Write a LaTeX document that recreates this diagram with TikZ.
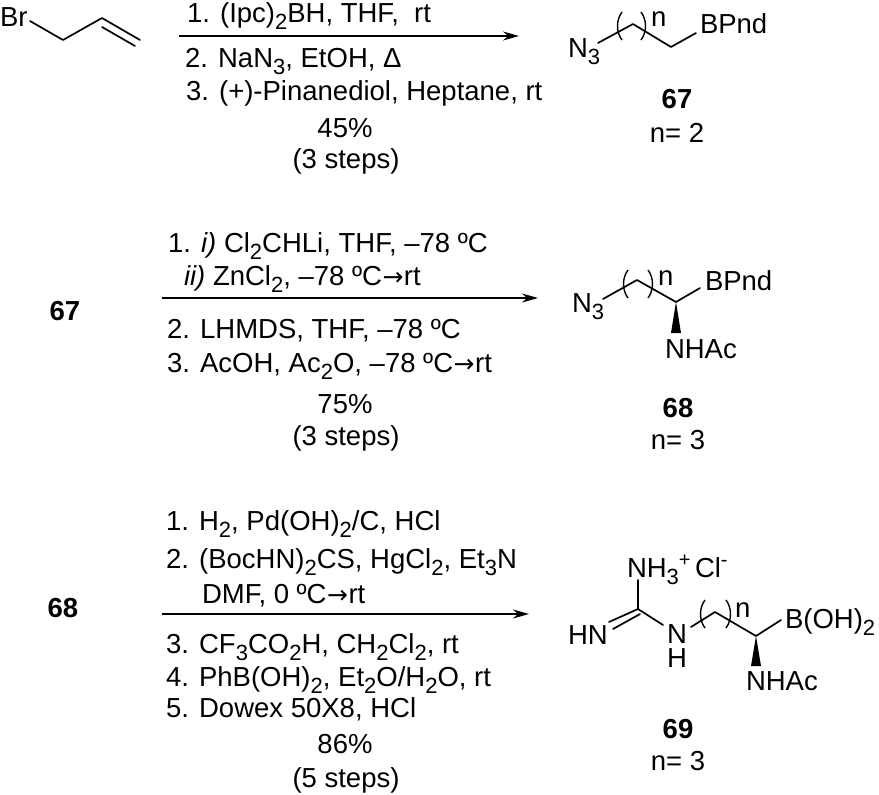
\documentclass[tikz,border=0pt]{standalone}
\usepackage{fontspec}
\setmainfont{Liberation Sans}
\newfontfamily\arrfont{DejaVu Sans}
\usetikzlibrary{arrows.meta}
\newcommand{\sbs}[1]{\raisebox{-7pt}{\fontsize{22}{22}\selectfont #1}}
\newcommand{\sps}[1]{\raisebox{11pt}{\fontsize{20}{20}\selectfont #1}}
\newcommand{\yields}{\kern0.5pt{\arrfont\fontsize{25}{25}\selectfont →}\kern0.5pt}
\tikzset{
  txt/.style={inner sep=0pt,outer sep=0pt,anchor=base west,font=\fontsize{27.5}{30}\selectfont},
  ctr/.style={txt,anchor=base},
  stack/.style={inner sep=0pt,outer sep=0pt,align=center,font=\fontsize{27.5}{24}\selectfont},
  cmpd/.style={ctr,font=\fontsize{27.5}{30}\selectfont\bfseries},
  bond/.style={line width=1.7pt,line cap=round,line join=round},
  paren/.style={line width=1.4pt},
  rxn/.style={line width=1.5pt,-{Stealth[length=16pt,width=9pt]}},
  wedgeb/.style={fill=black,draw=none}
}
\begin{document}
\begin{tikzpicture}[x=1pt,y=-1pt]
\useasboundingbox (0,0) rectangle (879,795);
% Starting material
\node[txt] (br) at (0,27) {Br};
\coordinate (a0) at (30,21);\coordinate (a1) at (63,40);\coordinate (a2) at (102,18);\coordinate (a3) at (140,40);
\coordinate (a4) at (102,27);\coordinate (a5) at (135,46);
\draw[bond] (a0)--(a1)--(a2)--(a3);
\draw[bond] (a4)--(a5);
% Reaction 1
\coordinate (r1s) at (179,36);\coordinate (r1e) at (519,36);
\draw[rxn] (r1s)--(r1e);
\node[txt] (c11) at (187,23) {1. (Ipc)\sbs{2}BH, THF,\ \ rt};
\node[txt] (c12) at (185,67) {2. NaN\sbs{3}, EtOH, Δ};
\node[txt] (c13) at (186,100) {3. (+)-Pinanediol, Heptane, rt};
\node[ctr] (c14) at (345,137) {45\%};
\node[ctr] (c15) at (346,168) {(3 steps)};
% 67
\node[txt] (n67) at (568,57) {N\sbs{3}};
\coordinate (b0) at (598,43);\coordinate (b1) at (633,24);\coordinate (b2) at (671,47);\coordinate (b3) at (696,33);
\draw[bond] (b0)--(b1)--(b2)--(b3);
\coordinate (p1a) at (622,12);\coordinate (p1b) at (622,40);\coordinate (p2a) at (641,12);\coordinate (p2b) at (641,40);
\draw[paren] (p1a) .. controls (616,20) and (616,32) .. (p1b);
\draw[paren] (p2a) .. controls (647,20) and (647,32) .. (p2b);
\node[txt] (nn1) at (651,27) {n};
\node[txt] (bp1) at (700,34) {BPnd};
\node[cmpd] (l67) at (677,108) {67};
\node[ctr] (n2) at (677,142) {n= 2};
% Row 2
\node[cmpd] (s67) at (65,320) {67};
\coordinate (r2s) at (162,298);\coordinate (r2e) at (538,298);
\draw[rxn] (r2s)--(r2e);
\node[txt] (c21) at (168,252) {1. \textit{i)} Cl\sbs{2}CHLi, THF, –78 ºC};
\node[txt] (c22) at (184,285) {\textit{ii)} ZnCl\sbs{2}, –78 ºC\yields rt};
\node[txt] (c23) at (167,338) {2. LHMDS, THF, –78 ºC};
\node[txt] (c24) at (167,372) {3. AcOH, Ac\sbs{2}O, –78 ºC\yields rt};
\node[ctr] (c25) at (345,413) {75\%};
\node[ctr] (c26) at (346,445) {(3 steps)};
% 68
\node[txt] (n68) at (572,312) {N\sbs{3}};
\coordinate (d0) at (603,299);\coordinate (d1) at (637,280);\coordinate (d2) at (676,302);\coordinate (d3) at (700,288);
\draw[bond] (d0)--(d1)--(d2)--(d3);
\coordinate (w1l) at (671,333);\coordinate (w1r) at (681,333);
\fill[wedgeb] (d2)--(w1r)--(w1l)--cycle;
\coordinate (q1a) at (628,270);\coordinate (q1b) at (628,298);\coordinate (q2a) at (648,270);\coordinate (q2b) at (648,298);
\draw[paren] (q1a) .. controls (622,278) and (622,290) .. (q1b);
\draw[paren] (q2a) .. controls (654,278) and (654,290) .. (q2b);
\node[txt] (nn2) at (658,285) {n};
\node[txt] (bp2) at (705,290) {BPnd};
\node[txt] (na2) at (665,358) {NHAc};
\node[cmpd] (l68) at (678,417) {68};
\node[ctr] (n3a) at (678,449) {n= 3};
% Row 3
\node[cmpd] (s68) at (63,617) {68};
\coordinate (r3s) at (162,614);\coordinate (r3e) at (529,614);
\draw[rxn] (r3s)--(r3e);
\node[txt] (c31) at (166,530) {1. H\sbs{2}, Pd(OH)\sbs{2}/C, HCl};
\node[txt] (c32) at (166,568) {2. (BocHN)\sbs{2}CS, HgCl\sbs{2}, Et\sbs{3}N};
\node[txt] (c33) at (202,603) {DMF, 0 ºC\yields rt};
\node[txt] (c34) at (166,653) {3. CF\sbs{3}CO\sbs{2}H, CH\sbs{2}Cl\sbs{2}, rt};
\node[txt] (c35) at (166,686) {4. PhB(OH)\sbs{2}, Et\sbs{2}O/H\sbs{2}O, rt};
\node[txt] (c36) at (166,717) {5. Dowex 50X8, HCl};
\node[ctr] (c37) at (345,753) {86\%};
\node[ctr] (c38) at (346,787) {(5 steps)};
% 69
\node[txt] (nh3) at (627,577) {NH\sbs{3}\sps{+}};
\node[txt] (cl) at (695,577) {Cl\sps{-}};
\node[txt] (hn) at (568,644) {HN};
\node[stack] (nh) at (677,646) {N\\H};
\coordinate (e0) at (638,580);\coordinate (e1) at (638,609);\coordinate (e2) at (609,622);
\coordinate (e3) at (613,629);\coordinate (e4) at (640,614);\coordinate (e5) at (663,625);
\draw[bond] (e0)--(e1)--(e2);
\draw[bond] (e3)--(e4);
\draw[bond] (e1)--(e5);
\coordinate (f0) at (691,627);\coordinate (f1) at (715,612);\coordinate (f2) at (756,636);\coordinate (f3) at (781,620);
\draw[bond] (f0)--(f1)--(f2)--(f3);
\coordinate (w2l) at (751,666);\coordinate (w2r) at (761,666);
\fill[wedgeb] (f2)--(w2r)--(w2l)--cycle;
\coordinate (s1a) at (705,600);\coordinate (s1b) at (705,628);\coordinate (s2a) at (726,600);\coordinate (s2b) at (726,628);
\draw[paren] (s1a) .. controls (699,608) and (699,620) .. (s1b);
\draw[paren] (s2a) .. controls (732,608) and (732,620) .. (s2b);
\node[txt] (nn3) at (735,617) {n};
\node[txt] (bo) at (785,628) {B(OH)\sbs{2}};
\node[txt] (na3) at (746,690) {NHAc};
\node[cmpd] (l69) at (678,738) {69};
\node[ctr] (n3b) at (678,770) {n= 3};
\end{tikzpicture}
\end{document}
